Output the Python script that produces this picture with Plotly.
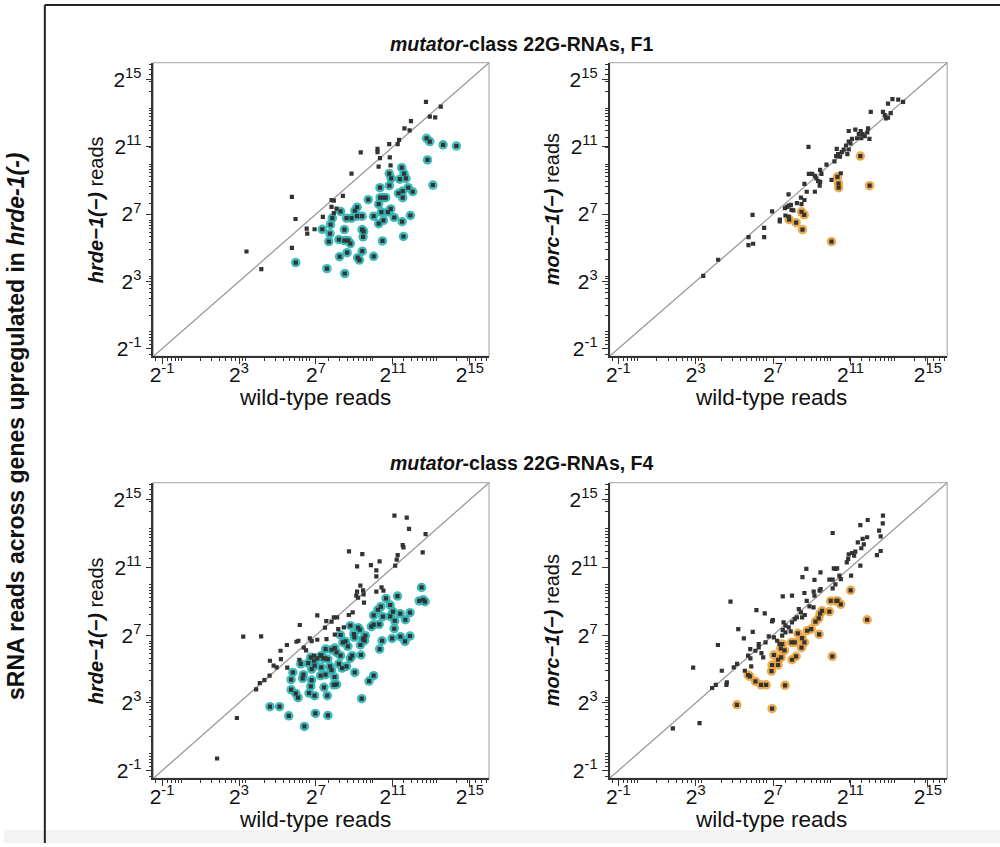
import numpy as np
import plotly.graph_objects as go

# ---------------- data (log2 of reads) ----------------
# Panel A: F1, hrde-1(-) vs wild type
a_grey_x = [12.72, 13.49, 12.92, 13.20, 11.94, 11.60, 11.87, 11.32, 11.25, 10.81, 10.20, 10.20, 9.33, 10.33, 10.84,
            10.26, 10.88, 8.85, 5.75, 5.94, 7.81, 7.93, 8.40, 7.81, 8.07, 7.93, 7.36, 6.52, 6.93, 6.55, 5.75, 3.39, 4.16]
a_grey_y = [13.67, 13.39, 12.80, 12.75, 12.53, 12.10, 11.98, 11.41, 11.16, 11.16, 10.88, 10.69, 10.67, 10.33, 10.37,
            9.82, 9.90, 9.41, 8.02, 6.71, 7.84, 7.80, 8.08, 7.43, 7.33, 7.06, 6.84, 6.14, 6.10, 5.84, 5.00, 4.78, 3.73]
a_col_x = [12.75, 12.92, 13.61, 14.30, 12.80, 13.08, 11.46, 10.81, 11.58, 10.91, 11.36, 11.68, 10.82, 10.33, 11.80, 11.51,
           12.03, 11.29, 10.34, 10.51, 10.63, 11.51, 9.72, 10.26, 9.14, 8.28, 9.02, 10.40, 10.89, 10.74, 11.07,
           11.91, 9.14, 9.40, 10.00, 7.85, 8.59, 8.85, 10.51, 10.26, 11.48, 7.76, 7.33, 8.48, 9.40, 9.48, 7.73,
           9.45, 11.55, 7.67, 8.19, 8.48, 8.67, 8.79, 10.46, 8.62, 9.41, 8.23, 9.17, 9.26, 10.00, 5.95, 7.57, 8.50]
a_col_y = [11.51, 11.31, 11.12, 11.05, 10.22, 8.73, 9.76, 9.41, 9.41, 9.12, 9.08, 9.12, 8.69, 8.57, 8.57, 8.37,
           8.33, 8.24, 7.98, 7.98, 7.98, 7.98, 7.86, 7.59, 7.41, 7.16, 7.20, 7.12, 7.31, 7.12, 6.80,
           6.92, 6.88, 6.88, 6.88, 6.76, 6.76, 6.76, 6.63, 6.43, 6.55, 6.37, 6.10, 6.08, 6.08, 5.98, 5.84,
           5.65, 5.67, 5.37, 5.49, 5.43, 5.43, 5.25, 5.41, 4.71, 4.80, 4.47, 4.41, 4.27, 4.49, 4.12, 3.76, 3.47]

# Panel B: F1, morc-1(-) vs wild type
b_grey_x = [3.39, 4.16, 5.94, 5.73, 5.73, 5.97, 6.54, 6.54, 6.95, 7.35, 7.35, 7.80, 7.61, 7.71, 7.81, 7.92, 7.95, 8.05,
            7.64, 7.81, 8.23, 8.44, 8.47, 8.62, 8.62, 8.74, 8.83, 8.85, 9.02, 9.16, 9.16, 9.24, 9.33, 9.43, 9.41,
            9.50, 9.43, 9.76, 10.02, 10.17, 10.26, 10.36, 10.46, 10.29, 10.55, 10.65, 10.77, 10.84, 10.91, 10.91,
            11.00, 10.91, 11.08, 11.25, 11.34, 11.43, 11.53, 11.63, 11.56, 11.74, 11.91, 11.87, 11.98, 12.05,
            12.68, 12.77, 12.84, 12.94, 13.08, 12.94, 13.17, 13.47, 13.72, 10.50]
b_grey_y = [3.33, 4.29, 6.96, 5.63, 5.16, 5.24, 6.18, 5.63, 7.16, 6.67, 6.57, 8.18, 7.35, 7.43, 7.51, 7.55, 7.25, 7.22,
            6.92, 6.86, 7.65, 7.98, 7.59, 7.84, 8.80, 8.33, 11.00, 9.39, 9.39, 9.27, 8.33, 9.12, 8.96, 8.92, 8.69,
            9.39, 9.63, 9.94, 9.04, 10.14, 10.45, 10.57, 10.41, 10.88, 10.69, 10.84, 11.08, 10.57, 10.84, 11.31,
            11.20, 11.94, 11.47, 12.02, 11.51, 11.75, 11.94, 11.75, 11.51, 11.63, 12.10, 11.86, 11.47, 13.08,
            13.08, 12.88, 12.69, 12.73, 13.00, 13.57, 13.84, 13.80, 13.67, 9.43]
b_col_x = [11.51, 10.33, 10.38, 10.39, 11.99, 8.47, 8.61, 7.83, 8.19, 8.52, 10.02]
b_col_y = [10.45, 9.22, 8.82, 8.57, 8.69, 7.14, 6.96, 6.67, 6.49, 6.08, 5.37]

# Panel C: F4, hrde-1(-) vs wild type
c_grey_x = [11.08, 11.72, 11.84, 12.70, 11.51, 11.55, 12.55, 11.25, 11.20, 11.12, 8.72, 9.41, 10.31, 9.86, 9.14, 10.14,
            10.14, 10.41, 10.51, 10.14, 9.31, 9.45, 9.14, 9.10, 9.48, 9.19, 9.50, 8.91, 8.71, 8.10, 7.93, 7.81,
            7.54, 7.07, 8.16, 8.45, 7.98, 7.47, 7.55, 6.68, 7.07, 6.78, 6.16, 5.99, 6.09, 6.37, 6.49, 5.49, 5.16,
            5.18, 4.61, 5.51, 4.80, 4.96, 4.59, 4.32, 4.08, 3.89, 3.22, 4.15, 2.89, 1.86, 6.14, 6.90, 7.24, 7.50]
c_grey_y = [14.06, 13.94, 13.27, 12.97, 12.32, 12.18, 11.89, 11.73, 11.46, 11.10, 11.95, 11.79, 11.36, 11.14, 11.06, 10.83,
            10.47, 9.82, 9.63, 9.57, 9.92, 9.65, 9.57, 9.33, 9.41, 9.21, 8.92, 8.35, 8.19, 8.05, 8.05, 7.80,
            7.83, 8.17, 7.36, 7.46, 7.03, 7.44, 6.77, 6.81, 6.73, 6.65, 7.60, 6.61, 6.67, 6.26, 6.10, 6.42, 6.08,
            5.59, 5.49, 5.08, 5.20, 5.10, 4.61, 4.35, 4.17, 3.80, 6.91, 6.93, 2.11, -0.28, 5.55, 5.79, 5.83, 5.63]
c_col_x = [12.49, 11.24, 10.64, 12.37, 12.67, 12.58, 10.86, 10.38, 10.22, 10.00, 10.48, 11.00, 10.86, 11.10, 11.38,
           11.65, 11.89, 10.29, 10.00, 9.88, 11.07, 8.79, 9.19, 9.28, 8.97, 9.00, 9.48, 9.53, 10.44, 10.96, 11.39,
           11.63, 11.89, 8.28, 8.40, 8.54, 8.66, 9.31, 10.31, 7.98, 8.07, 7.50, 7.28, 7.62, 7.38, 7.07, 6.90, 6.73,
           6.93, 6.60, 6.21, 6.78, 7.28, 7.73, 7.81, 8.19, 8.36, 8.59, 8.79, 8.88, 9.34, 8.28, 7.81, 7.24, 7.50,
           7.97, 7.93, 8.07, 6.35, 6.78, 6.31, 5.80, 5.71, 5.71, 5.95, 6.07, 6.64, 6.73, 6.93, 7.42, 7.59, 9.02,
           9.76, 10.00, 9.38, 4.61, 5.11, 5.59, 6.97, 7.62, 6.40, 9.45, 9.57]
c_col_y = [9.82, 9.31, 9.17, 9.02, 8.98, 9.09, 8.78, 8.68, 8.50, 8.17, 8.09, 8.39, 8.11, 7.85, 8.27,
           7.91, 8.33, 7.64, 7.62, 7.50, 7.38, 7.56, 7.44, 7.32, 7.07, 6.87, 6.81, 6.67, 6.67, 6.81, 6.91,
           6.63, 6.95, 7.01, 6.57, 6.63, 6.34, 6.42, 6.18, 6.24, 5.98, 6.18, 5.79, 5.59, 5.63, 5.63, 5.49, 5.69,
           5.20, 5.35, 5.30, 5.00, 5.10, 5.16, 4.94, 5.30, 5.06, 5.16, 5.63, 5.79, 5.83, 5.79, 6.14, 4.61, 4.67,
           4.53, 4.07, 4.09, 4.67, 4.35, 4.45, 4.80, 4.37, 3.78, 3.56, 3.31, 3.58, 3.98, 3.43, 3.92, 3.43, 4.80,
           4.29, 4.61, 3.25, 2.78, 2.78, 2.24, 2.38, 2.26, 1.61, 6.75, 6.97]

# Panel D: F4, morc-1(-) vs wild type
d_grey_x = [12.68, 11.89, 12.67, 11.51, 12.48, 12.56, 11.86, 11.63, 11.38, 11.69, 11.56, 12.37, 12.56, 10.08, 11.08,
            11.25, 11.19, 10.91, 10.88, 10.81, 11.51, 11.03, 10.31, 10.22, 10.14, 9.45, 9.91, 10.08, 10.43, 10.50,
            10.22, 10.08, 9.46, 9.40, 9.10, 9.14, 8.72, 8.52, 9.14, 8.62, 7.98, 7.50, 8.74, 8.88, 9.09, 8.33, 8.44,
            8.64, 8.50, 8.23, 8.12, 7.98, 7.81, 7.54, 7.64, 7.47, 7.50, 7.91, 6.99, 6.95, 6.57, 6.14, 5.95, 6.78,
            7.04, 7.21, 6.61, 6.26, 6.26, 6.09, 5.82, 6.40, 6.49, 5.83, 5.71, 5.49, 5.20, 4.80, 4.15, 5.14, 4.97,
            5.54, 5.87, 4.35, 4.61, 4.59, 4.04, 3.85, 2.87, 3.20, 1.82, 7.33, 7.64]
d_grey_y = [14.06, 13.80, 13.60, 13.50, 13.17, 12.83, 12.78, 12.68, 12.48, 12.36, 12.13, 11.73, 11.97, 13.03, 11.85,
            11.93, 11.69, 11.77, 11.50, 11.30, 11.10, 10.51, 10.94, 10.91, 10.94, 10.71, 10.28, 10.28, 10.51, 10.31,
            10.00, 9.76, 9.72, 9.63, 9.57, 9.33, 10.91, 10.43, 10.26, 9.49, 9.33, 9.29, 9.02, 8.70, 8.64, 8.54, 8.35,
            8.19, 8.05, 8.05, 7.95, 7.76, 7.46, 7.76, 7.17, 6.97, 7.30, 7.22, 7.89, 7.81, 8.29, 8.48, 7.20, 6.93,
            6.87, 6.67, 6.57, 6.48, 6.28, 6.08, 6.18, 5.94, 5.69, 5.63, 5.79, 6.81, 7.36, 8.98, 6.42, 5.30, 5.10,
            4.90, 5.16, 4.90, 4.21, 4.07, 4.06, 3.88, 5.08, 1.81, 1.50, 6.48, 7.56]
d_col_x = [11.01, 9.98, 10.33, 10.50, 9.91, 9.53, 9.43, 9.36, 9.19, 11.86, 8.97, 8.76, 9.38, 8.28, 8.50, 8.62, 8.12,
           7.95, 8.47, 7.47, 7.40, 7.59, 7.04, 7.42, 7.26, 7.98, 8.19, 6.95, 7.26, 6.92, 10.06, 5.71, 5.80, 6.09,
           6.38, 6.64, 7.62, 5.13, 6.95, 10.27]
d_col_y = [9.65, 9.02, 9.02, 8.82, 8.39, 8.44, 8.27, 7.99, 7.80, 7.91, 7.36, 7.26, 7.05, 7.11, 6.83, 6.57, 6.57,
           6.57, 6.26, 6.48, 6.22, 6.10, 5.83, 5.69, 5.55, 5.55, 5.75, 5.24, 5.24, 4.88, 5.75, 4.65, 4.57, 4.27,
           4.07, 4.07, 4.04, 2.89, 2.66, 9.02]

tick_exp = [-1, 3, 7, 11, 15]
tick_text = ["2<sup>-1</sup>", "2<sup>3</sup>", "2<sup>7</sup>", "2<sup>11</sup>", "2<sup>15</sup>"]
panel_titles = ["<b><i>mutator</i>-class 22G-RNAs, F1</b>", "<b><i>mutator</i>-class 22G-RNAs, F4</b>"]
y_titles = ["<b><i>hrde−1(−)</i></b> reads", "<b><i>morc−1(−)</i></b> reads"]
x_title = "wild-type reads"
side_title = "<b>sRNA reads across genes upregulated in <i>hrde-1(-)</i></b>"

TEAL = "#2bb3b3"
ORANGE = "#e9a23b"
DARK = "#333333"

panels = [
    (a_grey_x, a_grey_y, a_col_x, a_col_y, TEAL),
    (b_grey_x, b_grey_y, b_col_x, b_col_y, ORANGE),
    (c_grey_x, c_grey_y, c_col_x, c_col_y, TEAL),
    (d_grey_x, d_grey_y, d_col_x, d_col_y, ORANGE),
]

W, H = 1000, 847
FONT = "Liberation Sans, Arial, Helvetica, sans-serif"

# panel frames in pixels (left, right, top, bottom)
frames = [(150, 487, 63, 358), (608, 947, 63, 358), (150, 487, 485, 782), (608, 947, 485, 782)]

fig = go.Figure()
lo, hi = -1.45, 16.0
rng = [lo * np.log10(2), hi * np.log10(2)]
tickvals = [2.0 ** e for e in tick_exp]

layout = dict(
    width=W, height=H,
    margin=dict(l=0, r=0, t=0, b=0),
    paper_bgcolor="white", plot_bgcolor="white",
    showlegend=False,
    font=dict(family=FONT, color="#111"),
)

for i, (gx, gy, cx, cy, col) in enumerate(panels):
    n = i + 1
    xa = "x" if n == 1 else f"x{n}"
    ya = "y" if n == 1 else f"y{n}"
    # diagonal
    fig.add_trace(go.Scatter(x=[2.0 ** lo, 2.0 ** hi], y=[2.0 ** lo, 2.0 ** hi], mode="lines",
                             line=dict(color="#9a9a9a", width=1.3), xaxis=xa, yaxis=ya, hoverinfo="skip"))
    # highlighted genes
    fig.add_trace(go.Scatter(x=2.0 ** np.array(cx), y=2.0 ** np.array(cy), mode="markers",
                             marker=dict(symbol="circle", size=9.5, color=col, opacity=0.9,
                                         line=dict(width=0)),
                             xaxis=xa, yaxis=ya))
    # all genes
    allx = np.concatenate([gx, cx])
    ally = np.concatenate([gy, cy])
    fig.add_trace(go.Scatter(x=2.0 ** allx, y=2.0 ** ally, mode="markers",
                             marker=dict(symbol="square", size=4.2, color=DARK, line=dict(width=0)),
                             xaxis=xa, yaxis=ya))
    l, r, t, b = frames[i]
    axcommon = dict(type="log", range=rng, tickmode="array", tickvals=tickvals, ticktext=tick_text,
                    ticks="outside", ticklen=6, tickwidth=1, tickcolor=DARK,
                    showline=True, linecolor=DARK, linewidth=1.5, mirror=False,
                    showgrid=False, zeroline=False,
                    tickfont=dict(family=FONT, size=21, color="#111"),
                    minor=dict(ticks="outside", ticklen=3, tickwidth=1, tickcolor=DARK, dtick="D1",
                               showgrid=False))
    xkey = "xaxis" if n == 1 else f"xaxis{n}"
    ykey = "yaxis" if n == 1 else f"yaxis{n}"
    layout[xkey] = dict(axcommon, domain=[l / W, r / W], anchor=ya, ticklabelstandoff=-7)
    layout[ykey] = dict(axcommon, domain=[1 - b / H, 1 - t / H], anchor=xa)

shapes = []
for i, (l, r, t, b) in enumerate(frames):
    n = i + 1
    xa = "x" if n == 1 else f"x{n}"
    ya = "y" if n == 1 else f"y{n}"
    shapes.append(dict(type="rect", xref=f"{xa} domain", yref=f"{ya} domain", x0=0, x1=1, y0=0, y1=1,
                       line=dict(color="#b5b5b5", width=1.3), layer="below"))
# page decoration
shapes.append(dict(type="rect", xref="paper", yref="paper", x0=0, x1=1, y0=0, y1=1 - 834 / H,
                   fillcolor="#f3f3f3", line=dict(width=0), layer="below"))
shapes.append(dict(type="line", xref="paper", yref="paper", x0=41 / W, x1=1, y0=1 - 5 / H, y1=1 - 5 / H,
                   line=dict(color="#222", width=2)))
shapes.append(dict(type="line", xref="paper", yref="paper", x0=41 / W, x1=41 / W, y0=0, y1=1 - 5 / H,
                   line=dict(color="#222", width=2)))
layout["shapes"] = shapes


def note(text, px, py, size, angle=0):
    return dict(text=text, x=px / W, y=1 - py / H, xref="paper", yref="paper", showarrow=False,
                xanchor="center", yanchor="middle", textangle=angle,
                font=dict(size=size, family=FONT, color="#111"))


ann = [note(panel_titles[0], 520, 44, 19.5), note(panel_titles[1], 520, 465, 19.5)]
for i, (l, r, t, b) in enumerate(frames):
    ann.append(note(y_titles[i % 2], l - 58, (t + b) / 2, 20, -90))
    ann.append(note(x_title, l + 7 + 155, b + 41, 22.5))
ann.append(note(side_title, 12, 428, 23, -90))
layout["annotations"] = ann

fig.update_layout(**layout)
fig.write_html("out.html")
